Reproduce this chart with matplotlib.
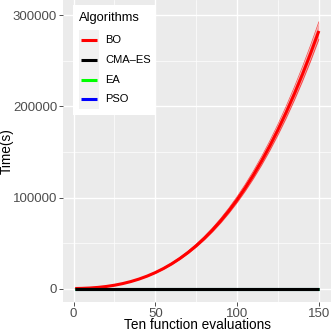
import matplotlib
matplotlib.use("Agg")
import matplotlib.pyplot as plt
from matplotlib.lines import Line2D
from matplotlib.patches import Rectangle

plt.rcParams['font.family'] = ['Liberation Sans', 'DejaVu Sans']

# ---- data ----
evals = [1, 5, 10, 15, 20, 25, 30, 35, 40, 45, 50, 55, 60, 65, 70, 75,
         80, 85, 90, 95, 100, 105, 110, 115, 120, 125, 130, 135, 140, 145, 150]
bo_mean = [16, 163, 564, 1246, 2252, 3625, 5408, 7644, 10376, 13647, 17500,
           21978, 27124, 32981, 39592, 47000, 55248, 64381, 74436, 85463, 97500,
           110593, 124785, 140117, 156632, 174375, 193390, 213715, 235396, 258470, 283000]
bo_upper = [17, 169, 584, 1290, 2331, 3752, 5597, 7912, 10739, 14125, 18113,
            22747, 28073, 34135, 40978, 48645, 57182, 66634, 77041, 88454, 100913,
            114464, 129152, 145021, 162114, 180478, 200159, 221195, 243635, 267516, 292905]
bo_lower = [15, 158, 545, 1205, 2178, 3505, 5230, 7392, 10034, 13197, 16923,
            21253, 26229, 31893, 38285, 45449, 53425, 62256, 71980, 82643, 94283,
            106943, 120667, 135493, 151463, 168621, 187008, 206662, 227628, 249940, 273661]
cma_vals = [10] * len(evals)
ea_vals = [8] * len(evals)
pso_vals = [6] * len(evals)

algorithms = ["BO", "CMA\u2013ES", "EA", "PSO"]
colors = ["#FF0000", "#000000", "#00FF00", "#0000FF"]

x_ticks = [0, 50, 100, 150]
y_ticks = [0, 100000, 200000, 300000]

W = 332
fig = plt.figure(figsize=(3.32, 3.32), dpi=100)
ax = fig.add_axes([63 / W, (W - 302) / W, 268 / W, 302 / W])
ax.set_facecolor("#EBEBEB")
for s in ax.spines.values():
    s.set_visible(False)

# grid
for v in [25, 75, 125]:
    ax.axvline(v, color="white", lw=0.5, zorder=0)
for v in [50000, 150000, 250000]:
    ax.axhline(v, color="white", lw=0.5, zorder=0)
for v in x_ticks:
    ax.axvline(v, color="white", lw=1.0, zorder=0)
for v in y_ticks:
    ax.axhline(v, color="white", lw=1.0, zorder=0)

# ribbon and lines
ax.fill_between(evals, bo_lower, bo_upper, color="#FF0000", alpha=0.3, lw=0, zorder=2)
ax.plot(evals, bo_upper, color="#FF0000", lw=0.5, alpha=0.7, zorder=2)
ax.plot(evals, bo_lower, color="#FF0000", lw=0.5, alpha=0.7, zorder=2)
ax.plot(evals, bo_mean, color=colors[0], lw=2.2, zorder=3, solid_capstyle="butt")
ax.plot(evals, pso_vals, color=colors[3], lw=2.2, zorder=3, solid_capstyle="butt")
ax.plot(evals, ea_vals, color=colors[2], lw=2.2, zorder=3, solid_capstyle="butt")
ax.plot(evals, cma_vals, color=colors[1], lw=2.2, zorder=4, solid_capstyle="butt")

ax.set_xlim(-6.45, 157.45)
ax.set_ylim(-14800, 317000)
ax.set_xticks(x_ticks)
ax.set_xticklabels([str(t) for t in x_ticks])
ax.set_yticks(y_ticks)
ax.set_yticklabels([str(t) for t in y_ticks])
ax.tick_params(axis="both", colors="#333333", length=2.7, width=0.6,
               labelsize=9.5, labelcolor="#4D4D4D", pad=1.5)

ax.set_xlabel("Ten function evaluations", fontsize=9.8, color="black", labelpad=-1)
ax.set_ylabel("Time(s)", fontsize=9.8, color="black", labelpad=-0.5)

# legend (manual, ggplot-like)
lx0, ly0, lx1, ly1 = 72.5, 5, 155, 115
fig.patches.append(Rectangle((lx0 / W, 1 - ly1 / W), (lx1 - lx0) / W, (ly1 - ly0) / W,
                             transform=fig.transFigure, facecolor="white",
                             edgecolor="none", zorder=5))
fig.text(79 / W, 1 - 18 / W, "Algorithms", fontsize=9.3, va="center", ha="left", zorder=6)
rows = [40, 60, 80, 99]
for name, col, ry in zip(algorithms, colors, rows):
    fig.patches.append(Rectangle((79 / W, 1 - (ry + 10) / W), 20 / W, 20 / W,
                                 transform=fig.transFigure, facecolor="#F2F2F2",
                                 edgecolor="none", zorder=6))
    fig.lines.append(Line2D([81 / W, 97 / W], [1 - ry / W, 1 - ry / W],
                            transform=fig.transFigure, color=col, lw=2.2,
                            solid_capstyle="butt", zorder=7))
    fig.text(105 / W, 1 - ry / W, name, fontsize=8, va="center", ha="left", zorder=7)

fig.savefig("out.png", dpi=100)
